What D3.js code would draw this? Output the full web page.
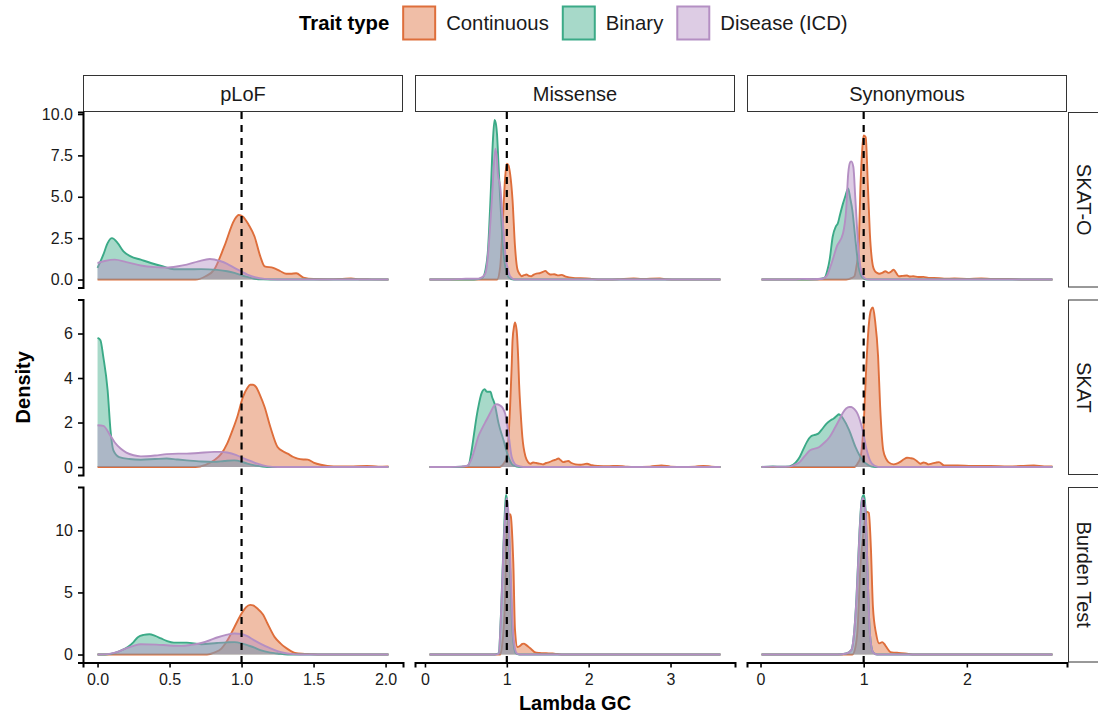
<!DOCTYPE html>
<html>
<head>
<meta charset="utf-8">
<script src="https://cdn.jsdelivr.net/npm/d3@7"></script>
<style>
body { margin: 0; background: #fff; }
text { font-family: "Liberation Sans", Arial, sans-serif; }
</style>
</head>
<body>
<div id="chart"></div>
<script>
// facet labels and groups
var testTypes = ["SKAT-O", "SKAT", "Burden Test"];
var variantTypes = ["pLoF", "Missense", "Synonymous"];
var traitTypes = ["Continuous", "Binary", "Disease (ICD)"];
var traitColors = ["#DE6E3B", "#3BAA87", "#B48FC3"];

var xTickValues = [[0, 0.5, 1, 1.5, 2], [0, 1, 2, 3], [0, 1, 2]];
var yTickValues = [[0, 2.5, 5, 7.5, 10], [0, 2, 4, 6], [0, 5, 10]];

// density curves: [lambda GC, density]
// pLoF
var plofSkatoCont = [[0,0],[0.68,0],[0.75,0.2],[0.81,0.6],[0.88,2.0],[0.95,3.6],[0.98,3.9],[1.01,3.8],[1.05,3.3],[1.09,2.6],[1.13,1.4],[1.16,0.8],[1.22,0.7],[1.27,0.5],[1.31,0.35],[1.34,0.35],[1.38,0.38],[1.43,0.12],[1.5,0.03],[1.6,0.02],[1.7,0.04],[1.76,0.06],[1.82,0.02],[1.9,0.01],[2.02,0]];
var plofSkatoBin = [[0,0.7],[0.04,1.5],[0.07,2.2],[0.1,2.5],[0.14,2.2],[0.18,1.7],[0.23,1.4],[0.3,1.2],[0.37,1.0],[0.45,0.8],[0.53,0.62],[0.62,0.62],[0.72,0.63],[0.83,0.58],[0.9,0.5],[0.95,0.4],[1.02,0.2],[1.09,0.05],[1.15,0.01],[1.25,0],[2.02,0]];
var plofSkatoDis = [[0,1.0],[0.05,1.12],[0.12,1.2],[0.2,1.05],[0.3,0.85],[0.4,0.75],[0.48,0.72],[0.56,0.8],[0.62,0.9],[0.7,1.1],[0.78,1.24],[0.85,1.12],[0.9,0.95],[0.95,0.7],[1.0,0.48],[1.04,0.3],[1.1,0.12],[1.16,0.04],[1.25,0],[2.02,0]];

var plofSkatCont = [[0,0],[0.68,0],[0.75,0.1],[0.81,0.3],[0.86,0.6],[0.9,1.05],[0.94,1.7],[0.97,2.25],[1.01,3.15],[1.04,3.55],[1.06,3.7],[1.08,3.7],[1.1,3.6],[1.13,3.2],[1.16,2.7],[1.2,1.8],[1.25,0.9],[1.29,0.7],[1.32,0.6],[1.36,0.45],[1.39,0.38],[1.43,0.34],[1.46,0.33],[1.5,0.2],[1.55,0.1],[1.64,0.03],[1.75,0.03],[1.87,0.05],[1.95,0.02],[2.02,0.03]];
var plofSkatBin = [[0,5.8],[0.02,5.7],[0.04,4.95],[0.07,3.45],[0.09,1.65],[0.11,0.75],[0.15,0.45],[0.22,0.36],[0.3,0.33],[0.4,0.36],[0.48,0.38],[0.55,0.34],[0.62,0.3],[0.72,0.25],[0.81,0.23],[0.88,0.27],[0.95,0.3],[1.0,0.24],[1.04,0.15],[1.1,0.06],[1.18,0],[2.02,0]];
var plofSkatDis = [[0,1.88],[0.04,1.85],[0.09,1.4],[0.12,1.1],[0.16,0.83],[0.2,0.65],[0.25,0.53],[0.3,0.48],[0.4,0.52],[0.48,0.58],[0.56,0.6],[0.62,0.6],[0.7,0.63],[0.81,0.68],[0.86,0.68],[0.9,0.65],[0.96,0.55],[1.02,0.38],[1.07,0.25],[1.11,0.15],[1.18,0.03],[1.25,0],[2.02,0]];

var plofBurdenCont = [[0,0],[0.76,0],[0.81,0.15],[0.86,0.47],[0.9,1.1],[0.95,2.2],[1.0,3.3],[1.03,3.8],[1.06,4.0],[1.08,3.95],[1.11,3.7],[1.15,3.2],[1.18,2.5],[1.23,1.4],[1.27,0.9],[1.3,0.6],[1.34,0.3],[1.37,0.13],[1.42,0.06],[1.46,0.05],[1.5,0.02],[1.55,0],[2.02,0]];
var plofBurdenBin = [[0,0],[0.05,0],[0.09,0.05],[0.15,0.25],[0.21,0.6],[0.25,1.0],[0.28,1.4],[0.32,1.58],[0.36,1.63],[0.4,1.5],[0.44,1.3],[0.48,1.1],[0.53,0.96],[0.62,0.96],[0.72,0.83],[0.83,0.93],[0.9,0.98],[0.95,1.0],[1.0,0.9],[1.04,0.75],[1.09,0.55],[1.13,0.35],[1.2,0.15],[1.25,0.08],[1.32,0],[2.02,0]];
var plofBurdenDis = [[0,0],[0.07,0.03],[0.12,0.15],[0.19,0.45],[0.25,0.7],[0.3,0.83],[0.41,0.8],[0.5,0.73],[0.58,0.7],[0.65,0.78],[0.72,0.93],[0.78,1.15],[0.83,1.37],[0.9,1.6],[0.95,1.69],[1.0,1.65],[1.04,1.48],[1.08,1.2],[1.13,0.88],[1.19,0.55],[1.25,0.27],[1.3,0.12],[1.34,0.05],[1.41,0],[2.02,0]];

// Missense
var misSkatoCont = [[0.056,0],[0.88,0],[0.92,0.8],[0.94,2.4],[0.96,4.4],[0.98,6.2],[1.0,7.0],[1.02,6.9],[1.04,6.4],[1.07,4.8],[1.1,2.0],[1.13,0.6],[1.16,0.3],[1.18,0.2],[1.21,0.26],[1.24,0.3],[1.27,0.22],[1.3,0.2],[1.33,0.3],[1.36,0.36],[1.4,0.38],[1.44,0.46],[1.47,0.52],[1.5,0.4],[1.53,0.3],[1.58,0.32],[1.63,0.25],[1.67,0.28],[1.72,0.18],[1.81,0.1],[1.9,0.08],[1.97,0.06],[2.05,0.03],[2.14,0],[2.35,0.02],[2.55,0.06],[2.65,0.03],[2.75,0.05],[2.87,0.06],[2.95,0.02],[3.08,0],[3.61,0]];
var misSkatoBin = [[0.056,0],[0.6,0],[0.7,0.1],[0.74,0.6],[0.77,1.8],[0.8,4.8],[0.83,8.4],[0.85,9.64],[0.87,9.3],[0.88,8.8],[0.9,6.8],[0.92,4.8],[0.94,3.0],[0.96,1.6],[1.0,0.4],[1.03,0.1],[1.08,0],[3.61,0]];
var misSkatoDis = [[0.056,0],[0.3,0],[0.5,0.05],[0.65,0.05],[0.7,0.15],[0.74,0.4],[0.77,1.5],[0.79,2.8],[0.82,5.0],[0.84,6.8],[0.86,7.9],[0.88,7.2],[0.89,6.4],[0.92,5.6],[0.95,3.6],[0.99,1.2],[1.02,0.5],[1.04,0.2],[1.1,0],[3.61,0]];

var misSkatCont = [[0.056,0],[0.91,0],[0.96,0.15],[1.0,0.45],[1.02,1.3],[1.04,2.7],[1.06,4.6],[1.07,5.7],[1.09,6.35],[1.1,6.5],[1.12,6.15],[1.14,4.8],[1.15,3.75],[1.17,2.4],[1.19,1.35],[1.23,0.45],[1.26,0.22],[1.29,0.15],[1.32,0.2],[1.36,0.18],[1.4,0.15],[1.44,0.12],[1.48,0.18],[1.52,0.22],[1.57,0.3],[1.6,0.33],[1.63,0.38],[1.66,0.3],[1.69,0.22],[1.72,0.25],[1.75,0.27],[1.79,0.18],[1.84,0.12],[1.9,0.1],[1.95,0.13],[1.98,0.15],[2.04,0.08],[2.11,0.05],[2.25,0.04],[2.35,0.05],[2.45,0.02],[2.55,0],[2.75,0.02],[2.89,0.07],[3.0,0.02],[3.16,0],[3.3,0.02],[3.4,0.05],[3.5,0.02],[3.61,0]];
var misSkatBin = [[0.056,0],[0.3,0],[0.45,0.01],[0.53,0.07],[0.57,0.75],[0.6,1.5],[0.63,2.25],[0.66,2.85],[0.69,3.3],[0.71,3.45],[0.73,3.5],[0.75,3.4],[0.77,3.38],[0.8,3.38],[0.82,3.15],[0.85,2.85],[0.9,1.95],[0.96,1.2],[1.02,0.45],[1.08,0.07],[1.16,0],[3.61,0]];
var misSkatDis = [[0.056,0],[0.3,0],[0.45,0.02],[0.51,0.05],[0.57,0.38],[0.61,0.85],[0.65,1.35],[0.7,1.75],[0.75,2.1],[0.8,2.45],[0.85,2.78],[0.88,2.82],[0.91,2.78],[0.95,2.65],[0.98,2.4],[1.02,1.5],[1.06,0.45],[1.12,0.07],[1.2,0],[3.61,0]];

var misBurdenCont = [[0.056,0],[0.92,0],[0.94,0.6],[0.96,1.95],[0.98,5.0],[0.99,8.66],[1.01,10.6],[1.02,11.2],[1.04,11.3],[1.05,11.1],[1.07,9.0],[1.08,7.3],[1.1,2.0],[1.13,0.6],[1.15,0.65],[1.17,0.75],[1.19,0.85],[1.21,0.88],[1.23,0.8],[1.26,0.65],[1.29,0.48],[1.32,0.3],[1.34,0.2],[1.4,0.13],[1.48,0.1],[1.56,0.08],[1.62,0.04],[1.69,0],[3.61,0]];
var misBurdenBin = [[0.056,0],[0.85,0],[0.9,0.1],[0.93,3.5],[0.96,9.0],[0.98,12.0],[0.99,12.85],[1.0,12.6],[1.02,11.0],[1.04,7.0],[1.06,3.0],[1.08,1.0],[1.11,0.1],[1.15,0],[3.61,0]];
var misBurdenDis = [[0.056,0],[0.85,0],[0.9,0.08],[0.93,3.3],[0.96,8.66],[0.99,12.1],[1.0,12.6],[1.02,11.4],[1.05,6.0],[1.08,1.4],[1.12,0.1],[1.16,0],[3.61,0]];

// Synonymous
var synSkatoCont = [[0.01,0],[0.83,0],[0.88,0.08],[0.91,0.2],[0.93,0.8],[0.95,1.8],[0.97,5.8],[0.99,8.2],[1.0,8.7],[1.02,8.6],[1.04,5.8],[1.06,2.8],[1.09,0.8],[1.11,0.5],[1.13,0.4],[1.15,0.35],[1.18,0.4],[1.21,0.5],[1.24,0.4],[1.27,0.5],[1.29,0.6],[1.31,0.45],[1.34,0.2],[1.38,0.22],[1.42,0.24],[1.45,0.18],[1.48,0.2],[1.53,0.15],[1.58,0.16],[1.63,0.1],[1.68,0.1],[1.78,0.05],[1.88,0.06],[2.0,0.04],[2.14,0.06],[2.25,0.03],[2.4,0.04],[2.56,0],[2.83,0]];
var synSkatoBin = [[0.01,0],[0.4,0],[0.55,0.02],[0.62,0.1],[0.65,0.6],[0.67,1.2],[0.7,2.6],[0.73,3.2],[0.75,3.4],[0.77,3.9],[0.8,4.6],[0.82,5.0],[0.84,5.4],[0.85,5.5],[0.87,4.9],[0.89,4.2],[0.92,2.4],[0.95,0.8],[0.99,0.1],[1.03,0],[2.83,0]];
var synSkatoDis = [[0.01,0],[0.35,0],[0.4,0.04],[0.5,0.02],[0.6,0.05],[0.64,0.2],[0.69,1.0],[0.74,2.0],[0.8,2.8],[0.83,4.2],[0.85,6.4],[0.87,7.1],[0.88,7.14],[0.9,6.8],[0.92,4.8],[0.95,1.8],[0.98,0.4],[1.01,0.08],[1.05,0],[2.83,0]];

var synSkatCont = [[0.01,0],[0.91,0],[0.94,0.15],[0.97,0.45],[1.0,1.95],[1.03,4.95],[1.05,6.4],[1.07,7.05],[1.09,7.17],[1.11,6.6],[1.14,4.95],[1.16,2.7],[1.19,0.75],[1.22,0.35],[1.24,0.22],[1.29,0.12],[1.32,0.15],[1.35,0.22],[1.39,0.35],[1.42,0.42],[1.45,0.4],[1.48,0.38],[1.52,0.25],[1.55,0.15],[1.58,0.2],[1.6,0.18],[1.63,0.12],[1.66,0.15],[1.7,0.2],[1.73,0.22],[1.78,0.07],[1.91,0.07],[2.05,0.05],[2.23,0.05],[2.4,0.03],[2.55,0.05],[2.65,0.07],[2.75,0.03],[2.83,0.03]];
var synSkatBin = [[0.01,0],[0.12,0.03],[0.2,0.01],[0.28,0.03],[0.34,0.2],[0.38,0.45],[0.42,0.85],[0.45,1.13],[0.49,1.38],[0.53,1.45],[0.56,1.5],[0.6,1.72],[0.64,1.95],[0.68,2.1],[0.71,2.18],[0.74,2.3],[0.76,2.37],[0.78,2.3],[0.8,2.18],[0.86,1.65],[0.92,0.9],[0.99,0.3],[1.04,0.1],[1.07,0.03],[1.12,0],[2.83,0]];
var synSkatDis = [[0.01,0],[0.12,0.02],[0.2,0.01],[0.28,0.02],[0.33,0.1],[0.38,0.22],[0.43,0.5],[0.48,0.75],[0.57,0.9],[0.62,1.1],[0.67,1.35],[0.72,1.75],[0.77,2.18],[0.8,2.45],[0.83,2.63],[0.86,2.7],[0.88,2.7],[0.91,2.6],[0.94,2.4],[0.99,1.65],[1.03,0.75],[1.08,0.15],[1.14,0],[2.83,0]];

var synBurdenCont = [[0.01,0],[0.89,0],[0.92,0.6],[0.94,1.95],[0.97,7.3],[1.0,10.0],[1.03,11.5],[1.05,11.4],[1.07,8.6],[1.09,3.8],[1.12,1.7],[1.15,0.9],[1.18,1.0],[1.2,0.85],[1.22,0.6],[1.26,0.2],[1.3,0.15],[1.34,0.13],[1.4,0.08],[1.44,0.04],[1.49,0],[2.83,0]];
var synBurdenBin = [[0.01,0],[0.75,0],[0.83,0.08],[0.88,0.35],[0.91,2.0],[0.93,4.6],[0.96,10.0],[0.98,12.4],[1.0,12.85],[1.01,12.5],[1.02,11.4],[1.04,6.0],[1.06,1.7],[1.09,0.2],[1.13,0],[2.83,0]];
var synBurdenDis = [[0.01,0],[0.75,0],[0.83,0.08],[0.88,0.35],[0.91,2.0],[0.93,4.4],[0.96,9.8],[0.98,12.2],[0.99,12.6],[1.0,12.5],[1.02,11.2],[1.04,6.0],[1.06,1.7],[1.09,0.2],[1.13,0],[2.83,0]];

// rows = test, cols = variant, inner = trait
var curves = [
    [[plofSkatoCont, plofSkatoBin, plofSkatoDis], [misSkatoCont, misSkatoBin, misSkatoDis], [synSkatoCont, synSkatoBin, synSkatoDis]],
    [[plofSkatCont, plofSkatBin, plofSkatDis], [misSkatCont, misSkatBin, misSkatDis], [synSkatCont, synSkatBin, synSkatDis]],
    [[plofBurdenCont, plofBurdenBin, plofBurdenDis], [misBurdenCont, misBurdenBin, misBurdenDis], [synBurdenCont, synBurdenBin, synBurdenDis]]
];

var width = 1098;
var height = 715;

var panelX = [83, 415, 747];
var panelY = [112, 299.5, 487];
var pw = 320;
var ph = 175.5;
var stripH = 37;
var stripW = 34;

var svg = d3.select('#chart').append('svg')
    .attr("width", width)
    .attr("height", height)

// free scales per column / row, 5% expansion like ggplot
var xs = variantTypes.map(function (v, c) {
    var all = [];
    curves.forEach(function (row) {
        row[c].forEach(function (s) { all = all.concat(s); });
    });
    var lo = d3.min(all, function (d) { return d[0]; });
    var hi = d3.max(all, function (d) { return d[0]; });
    var pad = (hi - lo) * 0.05;
    return d3.scaleLinear().domain([lo - pad, hi + pad]).range([panelX[c], panelX[c] + pw]);
});

var ys = testTypes.map(function (t, r) {
    var m = d3.max(curves[r], function (col) {
        return d3.max(col, function (s) {
            return d3.max(s, function (d) { return d[1]; });
        });
    });
    return d3.scaleLinear().domain([-0.05 * m, 1.05 * m]).range([panelY[r] + ph, panelY[r]]);
});

var defs = svg.append("defs");

testTypes.forEach(function (t, r) {
    variantTypes.forEach(function (v, c) {
        var id = "clip-" + r + "-" + c;
        defs.append("clipPath").attr("id", id)
            .append("rect")
            .attr("x", panelX[c]).attr("y", panelY[r])
            .attr("width", pw).attr("height", ph);

        var g = svg.append("g").attr("clip-path", "url(#" + id + ")");
        var x = xs[c], y = ys[r];

        var area = d3.area()
            .curve(d3.curveMonotoneX)
            .x(function (d) { return x(d[0]); })
            .y0(y(0))
            .y1(function (d) { return y(d[1]); });
        var line = d3.line()
            .curve(d3.curveMonotoneX)
            .x(function (d) { return x(d[0]); })
            .y(function (d) { return y(d[1]); });

        curves[r][c].forEach(function (s, k) {
            g.append("path")
                .attr("d", area(s))
                .attr("fill", traitColors[k])
                .attr("fill-opacity", 0.45);
            g.append("path")
                .attr("d", line(s))
                .attr("fill", "none")
                .attr("stroke", traitColors[k])
                .attr("stroke-width", 1.9)
                .attr("stroke-linejoin", "round");
        });

        // lambda = 1 reference
        g.append("line")
            .attr("x1", x(1)).attr("x2", x(1))
            .attr("y1", panelY[r]).attr("y2", panelY[r] + ph)
            .attr("stroke", "#000")
            .attr("stroke-width", 2.2)
            .attr("stroke-dasharray", "7,6");
    });
});

// top strips
variantTypes.forEach(function (v, c) {
    svg.append("rect")
        .attr("x", panelX[c] + 0.5).attr("y", panelY[0] - stripH + 0.5)
        .attr("width", pw - 1).attr("height", stripH - 1)
        .attr("fill", "#fff").attr("stroke", "#333").attr("stroke-width", 1);
    svg.append("text")
        .attr("x", panelX[c] + pw / 2)
        .attr("y", panelY[0] - stripH / 2)
        .attr("dy", "0.35em")
        .attr("text-anchor", "middle")
        .style("font-size", "20px")
        .attr("fill", "#1a1a1a")
        .text(v);
});

// right strips
testTypes.forEach(function (t, r) {
    var sx = panelX[2] + pw + 1;
    svg.append("rect")
        .attr("x", sx + 0.5).attr("y", panelY[r] + 0.5)
        .attr("width", stripW).attr("height", ph - 1)
        .attr("fill", "#fff").attr("stroke", "#333").attr("stroke-width", 1);
    svg.append("text")
        .attr("transform", "translate(" + (sx + 16) + "," + (panelY[r] + ph / 2) + ") rotate(90)")
        .attr("dy", "0.35em")
        .attr("text-anchor", "middle")
        .style("font-size", "20px")
        .attr("fill", "#1a1a1a")
        .text(t);
});

// y axes
testTypes.forEach(function (t, r) {
    var fmt = r === 0 ? d3.format(".1f") : d3.format("d");
    var ax = svg.append("g")
        .attr("transform", "translate(" + panelX[0] + ",0)")
        .call(d3.axisLeft(ys[r]).tickValues(yTickValues[r]).tickFormat(fmt)
            .tickSizeOuter(0).tickSize(5).tickPadding(5));
    ax.select(".domain").attr("stroke", "#000").attr("stroke-width", 2);
    ax.selectAll(".tick line").attr("stroke", "#000").attr("stroke-width", 1.6);
    ax.selectAll("text")
        .style("font-family", "Liberation Sans, Arial, sans-serif")
        .style("font-size", "16px")
        .attr("fill", "#1a1a1a");
});

// x axes
variantTypes.forEach(function (v, c) {
    var fmt = c === 0 ? d3.format(".1f") : d3.format("d");
    var ax = svg.append("g")
        .attr("transform", "translate(0," + (panelY[2] + ph) + ")")
        .call(d3.axisBottom(xs[c]).tickValues(xTickValues[c]).tickFormat(fmt)
            .tickSizeOuter(0).tickSize(5).tickPadding(6));
    ax.select(".domain").attr("stroke", "#000").attr("stroke-width", 2);
    ax.selectAll(".tick line").attr("stroke", "#000").attr("stroke-width", 1.6);
    ax.selectAll("text")
        .style("font-family", "Liberation Sans, Arial, sans-serif")
        .style("font-size", "16px")
        .attr("fill", "#1a1a1a");
});

// axis titles
svg.append("text")
    .attr("x", (panelX[0] + panelX[2] + pw) / 2)
    .attr("y", 710)
    .attr("text-anchor", "middle")
    .style("font-size", "20px")
    .style("font-weight", "bold")
    .text("Lambda GC");

svg.append("text")
    .attr("transform", "translate(30," + (panelY[0] + panelY[2] + ph) / 2 + ") rotate(-90)")
    .attr("text-anchor", "middle")
    .style("font-size", "20px")
    .style("font-weight", "bold")
    .text("Density");

// legend on top
var legend = svg.append("g");
var lx = 299;
var ly = 23;
var title = legend.append("text")
    .attr("x", lx).attr("y", ly).attr("dy", "0.35em")
    .style("font-size", "20.3px").style("font-weight", "bold")
    .text("Trait type");
lx += title.node().getComputedTextLength() + 13;
traitTypes.forEach(function (t, k) {
    legend.append("rect")
        .attr("x", lx + 1).attr("y", ly - 16.5)
        .attr("width", 32).attr("height", 33)
        .attr("fill", traitColors[k]).attr("fill-opacity", 0.45)
        .attr("stroke", traitColors[k]).attr("stroke-width", 2);
    var lt = legend.append("text")
        .attr("x", lx + 44).attr("y", ly).attr("dy", "0.35em")
        .style("font-size", "20.3px")
        .attr("fill", "#1a1a1a")
        .text(t);
    lx += 44 + lt.node().getComputedTextLength() + 13;
});
</script>
</body>
</html>
